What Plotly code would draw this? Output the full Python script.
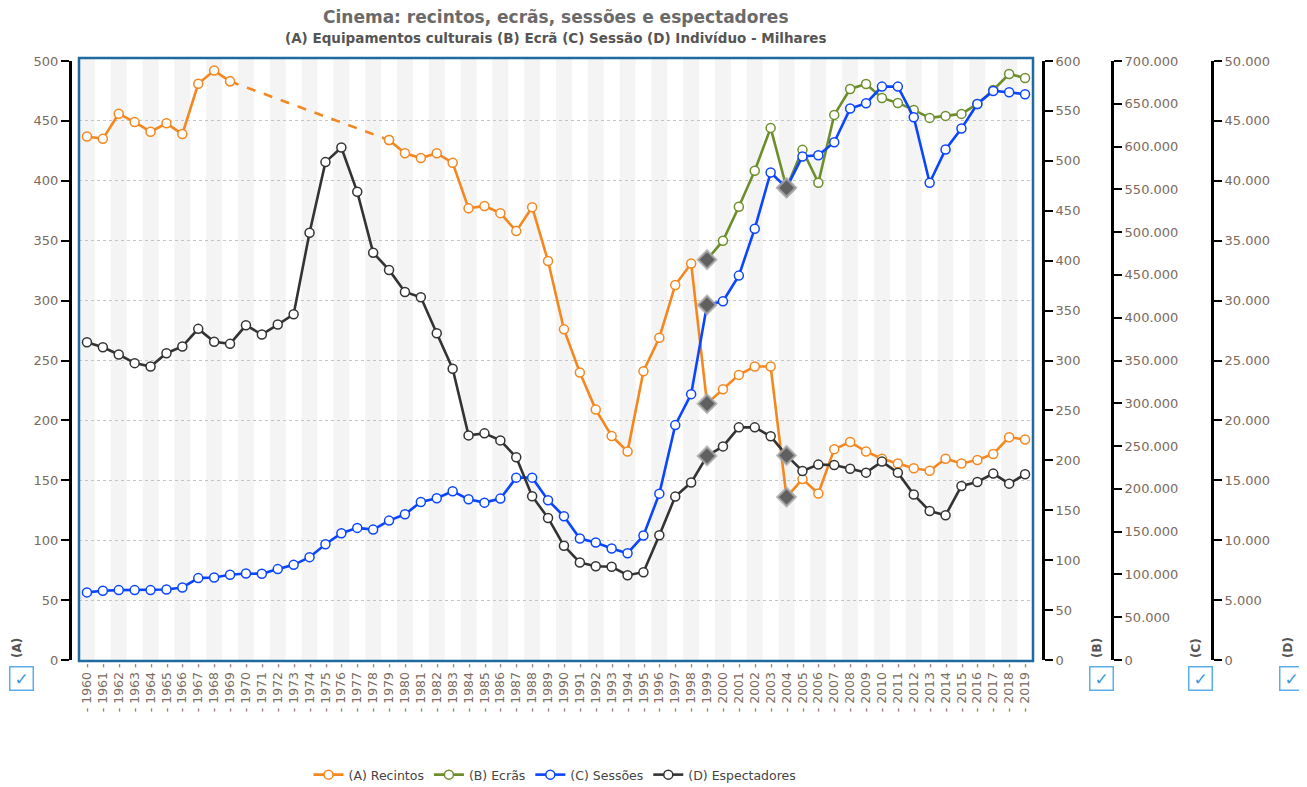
import plotly.graph_objects as go

# ---------------- data ----------------
years = list(range(1960, 2020))
recintos = [437, 435, 456, 449, 441, 448, 439, 481, 492, 483,
            None, None, None, None, None, None, None, None, None,
            434, 423, 419, 423, 415, 377, 379, 373, 358, 378, 333,
            276, 240, 209, 187, 174, 241, 269, 313, 331, 214,
            226, 238, 245, 245, 136, 151, 139, 176, 182, 174,
            168, 164, 160, 158, 168, 164, 167, 172, 186, 184]
ecras = [None] * 39 + [401, 420, 454, 490, 533, 473, 511, 478, 546, 572, 577,
                       563, 558, 551, 543, 545, 547, 557, 571, 587, 583]
sessoes = [79000, 80900, 81700, 81700, 81700, 82400, 84800, 95700, 96400, 99600,
           101100, 100700, 106200, 111200, 120200, 135300, 148200, 154400, 152400, 162900,
           170300, 184700, 189000, 197200, 187800, 183900, 188600, 213100, 213100, 186700,
           168000, 141900, 137300, 130300, 124800, 145400, 194400, 274500, 310700, 415000,
           419200, 449200, 504000, 569700, 551800, 588400, 589900, 605100, 644400, 650600,
           670100, 670100, 634300, 557700, 596600, 621100, 649800, 665000, 663400, 661100]
espectadores = [26530, 26110, 25500, 24780, 24500, 25610, 26170, 27640, 26560, 26390,
                27940, 27170, 28000, 28860, 35670, 41560, 42780, 39080, 34000, 32560,
                30720, 30280, 27280, 24310, 18750, 18920, 18330, 16920, 13670, 11860,
                9530, 8140, 7830, 7780, 7080, 7330, 10420, 13640, 14810, 17030,
                17830, 19420, 19420, 18670, 17080, 15780, 16310, 16280, 15970, 15640,
                16560, 15640, 13810, 12440, 12080, 14530, 14860, 15560, 14720, 15500]
break_years = [1999, 2004]
tick_labels = ["- %d -" % y for y in years]

series_names = ["(A) Recintos", "(B) Ecrãs", "(C) Sessões", "(D) Espectadores"]
axis_titles = ["(A)", "(B)", "(C)", "(D)"]
colors = ["#F5871F", "#6E8E2B", "#0A46FF", "#333333"]

# ---------------- layout helpers ----------------
OFF = 8                      # default body margin of the html page
W, H = 1307 - OFF, 787 - OFF
def px(x):
    return (x - OFF) / W
def py(y):
    return 1 - (y - OFF) / H

PL, PR, PT, PB = 79, 1033, 58, 661
YT, YB = 61, 660
FONT = "DejaVu Sans, Verdana, sans-serif"
LABEL_C = "#7b6b5d"

fig = go.Figure()

def marker_props(color):
    sym, col, size, lc, lw = [], [], [], [], []
    for yr in years:
        if yr in break_years:
            sym.append("diamond"); col.append("#606060"); size.append(14)
            lc.append("rgba(170,170,170,0.75)"); lw.append(2.5)
        else:
            sym.append("circle"); col.append("#ffffff"); size.append(9)
            lc.append(color); lw.append(1.5)
    return dict(symbol=sym, color=col, size=size, opacity=1,
                line=dict(color=lc, width=lw))

all_vals = [recintos, ecras, sessoes, espectadores]
axes = ["y", "y2", "y3", "y4"]
for name, vals, color, ax in zip(series_names, all_vals, colors, axes):
    fig.add_trace(go.Scatter(
        x=years, y=vals, name=name, yaxis=ax, mode="lines+markers",
        line=dict(color=color, width=2.6),
        marker=marker_props(color),
        connectgaps=False, showlegend=False, hoverinfo="x+y"))
    # legend entry with plain circle marker
    fig.add_trace(go.Scatter(
        x=[None], y=[None], name=name, yaxis=ax, mode="lines+markers",
        line=dict(color=color, width=2.6),
        marker=dict(symbol="circle", color="#ffffff", size=9, line=dict(color=color, width=1.5))))

# dashed connector over the gap in series A
gi0 = years.index(1969)
gi1 = years.index(1979)
fig.add_trace(go.Scatter(
    x=[years[gi0], years[gi1]], y=[recintos[gi0], recintos[gi1]],
    mode="lines", line=dict(color=colors[0], width=2.6, dash="dash"),
    showlegend=False, hoverinfo="skip", yaxis="y"))
fig.add_trace(go.Scatter(
    x=[years[gi0], years[gi1]], y=[recintos[gi0], recintos[gi1]],
    mode="markers", marker=dict(symbol="circle", color="#ffffff", size=9,
                                line=dict(color=colors[0], width=1.5)),
    showlegend=False, hoverinfo="skip", yaxis="y"))

# alternating stripes
shapes = []
for yr in years:
    if yr % 2 == 0:
        shapes.append(dict(type="rect", xref="x", yref="paper",
                           x0=yr - 0.5, x1=yr + 0.5, y0=py(PB), y1=py(PT),
                           fillcolor="#f4f4f4", line=dict(width=0), layer="below"))
# plot border
shapes.append(dict(type="rect", xref="paper", yref="paper",
                   x0=px(PL), x1=px(PR), y0=py(PB), y1=py(PT),
                   line=dict(color="#1f6aa0", width=2.5), fillcolor="rgba(0,0,0,0)", layer="above"))

ydom = [py(YB), py(YT)]
tickfont = dict(family=FONT, size=13, color=LABEL_C)
common_y = dict(domain=ydom, showline=True, linecolor="black", linewidth=3,
                ticks="outside", ticklen=8, tickwidth=2, tickcolor="black",
                tickfont=tickfont, zeroline=False, anchor="free", fixedrange=True)

fig.update_layout(
    width=W, height=H, autosize=False,
    margin=dict(l=0, r=0, t=0, b=0, pad=0, autoexpand=False),
    paper_bgcolor="white", plot_bgcolor="white",
    separators=",.",
    font=dict(family=FONT, size=12, color="#333333"),
    xaxis=dict(domain=[px(PL), px(PR)], range=[1959.5, 2019.5],
               tickmode="array", tickvals=years, ticktext=tick_labels,
               tickangle=-90, tickfont=dict(family=FONT, size=12.5, color=LABEL_C),
               showgrid=False, zeroline=False, showline=False, ticks="", automargin=False),
    yaxis=dict(range=[0, 500], dtick=50, position=px(70), side="left",
               showgrid=True, gridcolor="#c4c4c4", griddash="dot", gridwidth=1,
               automargin=False, **common_y),
    yaxis2=dict(range=[0, 600], dtick=50, position=px(1043), side="right",
                overlaying="y", showgrid=False, automargin=False, **common_y),
    yaxis3=dict(range=[0, 700000], dtick=50000, position=px(1112), side="right",
                overlaying="y", showgrid=False, tickformat=",d", automargin=False, **common_y),
    yaxis4=dict(range=[0, 50000], dtick=5000, position=px(1212), side="right",
                overlaying="y", showgrid=False, tickformat=",d", automargin=False, **common_y),
    shapes=shapes,
    legend=dict(orientation="h", x=px(555), xanchor="center", y=py(775), yanchor="middle",
                font=dict(family=FONT, size=12.5, color="#444444"),
                bgcolor="rgba(0,0,0,0)", itemwidth=30, tracegroupgap=0),
)

annotations = [
    dict(text="<b>Cinema: recintos, ecrãs, sessões e espectadores</b>",
         x=px(556), y=py(17), xref="paper", yref="paper", showarrow=False,
         font=dict(family=FONT, size=17, color="#6a6a6a"), xanchor="center", yanchor="middle"),
    dict(text="<b>(A) Equipamentos culturais (B) Ecrã (C) Sessão (D) Indivíduo - Milhares</b>",
         x=px(556), y=py(38), xref="paper", yref="paper", showarrow=False,
         font=dict(family=FONT, size=13.5, color="#555555"), xanchor="center", yanchor="middle"),
]
for t, xx in zip(axis_titles, [17, 1097, 1196, 1288]):
    annotations.append(dict(text="<b>%s</b>" % t, x=px(xx), y=py(648), xref="paper", yref="paper",
                            showarrow=False, textangle=-90,
                            font=dict(family=FONT, size=12, color="#555555"),
                            xanchor="center", yanchor="middle"))
for xx in [21, 1101, 1200, 1291]:
    annotations.append(dict(text="✓", x=px(xx), y=py(678), xref="paper", yref="paper",
                            showarrow=False, font=dict(family=FONT, size=17, color="#3b9ae0"),
                            bordercolor="#5aaeea", borderwidth=1.5, borderpad=1,
                            bgcolor="white", width=20, height=20,
                            xanchor="center", yanchor="middle"))
fig.update_layout(annotations=annotations)

fig.write_html("out.html")
